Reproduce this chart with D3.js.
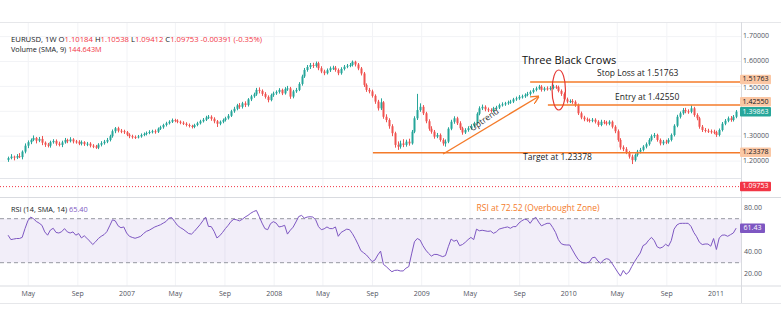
<!DOCTYPE html>
<html><head><meta charset="utf-8">
<script src="https://cdn.jsdelivr.net/npm/d3@7"></script>
<style>
body{margin:0;background:#fff}
svg{display:block}
text{font-family:"Open Sans",sans-serif}
</style>
</head><body><svg id="c" width="781" height="330"></svg>
<script>
// ---------- DATA ----------
const startWeek = "2006-03-12";
const firstOpen = 1.205;
const closes = [1.212,1.218,1.214,1.220,1.216,1.238,1.262,1.276,1.285,1.293,1.282,1.289,1.274,1.266,1.262,1.276,1.281,1.270,1.265,1.275,
1.285,1.280,1.287,1.279,1.278,1.270,1.276,1.268,1.270,1.262,1.259,1.254,1.266,1.272,1.278,1.285,1.300,1.320,1.332,1.322,
1.320,1.316,1.306,1.300,1.297,1.296,1.299,1.305,1.309,1.313,1.317,1.320,1.318,1.330,1.336,1.345,1.352,1.358,1.365,1.362,
1.358,1.354,1.350,1.345,1.341,1.337,1.345,1.352,1.360,1.366,1.375,1.378,1.370,1.360,1.350,1.358,1.365,1.372,1.382,1.400,
1.410,1.424,1.418,1.432,1.425,1.448,1.460,1.468,1.486,1.482,1.470,1.458,1.445,1.465,1.472,1.478,1.486,1.472,1.490,1.492,
1.459,1.480,1.486,1.510,1.540,1.566,1.578,1.586,1.582,1.593,1.573,1.560,1.553,1.565,1.573,1.575,1.566,1.553,1.570,1.579,
1.583,1.586,1.599,1.588,1.572,1.552,1.506,1.486,1.480,1.462,1.439,1.412,1.436,1.378,1.365,1.340,1.312,1.265,1.258,1.271,
1.265,1.278,1.271,1.318,1.372,1.405,1.418,1.392,1.360,1.330,1.318,1.298,1.305,1.285,1.271,1.278,1.330,1.358,1.372,1.352,
1.332,1.315,1.325,1.332,1.340,1.352,1.390,1.412,1.418,1.408,1.405,1.402,1.412,1.415,1.425,1.428,1.432,1.436,1.439,1.448,
1.452,1.458,1.460,1.466,1.470,1.478,1.486,1.492,1.499,1.486,1.492,1.490,1.494,1.499,1.497,1.482,1.470,1.448,1.439,1.441,
1.438,1.425,1.392,1.375,1.368,1.365,1.362,1.366,1.358,1.345,1.358,1.355,1.350,1.358,1.338,1.320,1.285,1.255,1.248,1.235,
1.218,1.204,1.225,1.238,1.245,1.258,1.268,1.285,1.300,1.305,1.285,1.271,1.278,1.276,1.285,1.305,1.342,1.378,1.392,1.405,
1.400,1.398,1.412,1.385,1.372,1.338,1.325,1.322,1.320,1.318,1.316,1.305,1.325,1.350,1.362,1.372,1.365,1.378,1.39863];
const highs = [1.218,1.228,1.222,1.228,1.232,1.243,1.271,1.283,1.291,1.303,1.297,1.297,1.301,1.279,1.273,1.282,1.288,1.287,1.278,1.282,
1.293,1.290,1.296,1.292,1.285,1.284,1.283,1.280,1.277,1.276,1.268,1.265,1.272,1.280,1.285,1.293,1.306,1.327,1.337,1.338,
1.329,1.326,1.321,1.312,1.306,1.303,1.305,1.311,1.315,1.319,1.324,1.326,1.327,1.335,1.342,1.350,1.358,1.364,1.371,1.370,
1.368,1.363,1.360,1.356,1.351,1.346,1.350,1.358,1.366,1.373,1.382,1.385,1.384,1.376,1.365,1.363,1.371,1.378,1.389,1.406,
1.418,1.430,1.433,1.438,1.440,1.453,1.466,1.475,1.494,1.496,1.488,1.477,1.464,1.471,1.479,1.484,1.493,1.491,1.497,1.502,
1.498,1.486,1.494,1.517,1.547,1.574,1.586,1.594,1.595,1.600,1.599,1.581,1.567,1.572,1.580,1.583,1.582,1.572,1.577,1.586,
1.590,1.594,1.604,1.603,1.594,1.578,1.558,1.512,1.494,1.487,1.468,1.446,1.452,1.441,1.388,1.372,1.348,1.318,1.279,1.282,
1.288,1.286,1.290,1.325,1.380,1.470,1.432,1.425,1.398,1.368,1.340,1.325,1.313,1.311,1.292,1.287,1.336,1.366,1.380,1.378,
1.360,1.338,1.332,1.340,1.348,1.358,1.396,1.420,1.427,1.424,1.415,1.412,1.418,1.422,1.431,1.436,1.438,1.443,1.446,1.454,
1.459,1.465,1.467,1.472,1.478,1.484,1.493,1.499,1.506,1.505,1.498,1.500,1.501,1.507,1.505,1.503,1.488,1.476,1.455,1.448,
1.449,1.444,1.431,1.399,1.382,1.375,1.371,1.373,1.372,1.364,1.366,1.365,1.362,1.364,1.363,1.344,1.327,1.292,1.263,1.256,
1.241,1.226,1.231,1.245,1.253,1.264,1.275,1.292,1.307,1.313,1.310,1.291,1.285,1.286,1.292,1.311,1.348,1.386,1.399,1.413,
1.414,1.408,1.424,1.418,1.392,1.378,1.345,1.333,1.330,1.327,1.326,1.322,1.331,1.357,1.369,1.379,1.381,1.385,1.405];
const lows = [1.197,1.207,1.203,1.208,1.212,1.207,1.231,1.252,1.268,1.280,1.271,1.276,1.264,1.257,1.255,1.254,1.270,1.262,1.259,1.256,
1.270,1.272,1.275,1.271,1.270,1.264,1.263,1.261,1.260,1.255,1.252,1.249,1.248,1.259,1.266,1.272,1.279,1.294,1.312,1.315,
1.312,1.309,1.300,1.292,1.290,1.289,1.291,1.294,1.300,1.303,1.308,1.311,1.310,1.313,1.325,1.330,1.339,1.347,1.353,1.356,
1.352,1.348,1.345,1.339,1.335,1.331,1.332,1.340,1.347,1.355,1.361,1.369,1.362,1.352,1.337,1.344,1.352,1.359,1.367,1.377,
1.394,1.404,1.410,1.411,1.417,1.419,1.441,1.454,1.462,1.472,1.462,1.451,1.436,1.440,1.458,1.466,1.471,1.465,1.467,1.482,
1.450,1.452,1.474,1.481,1.503,1.534,1.559,1.570,1.574,1.576,1.565,1.553,1.545,1.548,1.558,1.566,1.559,1.545,1.547,1.564,
1.573,1.577,1.580,1.580,1.565,1.544,1.498,1.478,1.472,1.455,1.430,1.403,1.405,1.370,1.356,1.330,1.300,1.254,1.245,1.250,
1.256,1.258,1.262,1.266,1.312,1.365,1.398,1.385,1.352,1.322,1.310,1.290,1.292,1.278,1.262,1.258,1.272,1.324,1.350,1.345,
1.325,1.306,1.309,1.318,1.326,1.334,1.346,1.384,1.405,1.400,1.397,1.395,1.396,1.406,1.409,1.419,1.422,1.426,1.430,1.433,
1.442,1.446,1.451,1.454,1.460,1.463,1.472,1.480,1.487,1.479,1.480,1.483,1.484,1.488,1.490,1.476,1.462,1.440,1.432,1.433,
1.430,1.418,1.385,1.368,1.360,1.358,1.355,1.356,1.351,1.338,1.340,1.348,1.343,1.344,1.331,1.312,1.278,1.246,1.240,1.228,
1.210,1.188,1.198,1.218,1.231,1.239,1.251,1.262,1.279,1.293,1.278,1.263,1.264,1.268,1.270,1.279,1.299,1.336,1.371,1.386,
1.392,1.390,1.392,1.378,1.364,1.330,1.317,1.315,1.313,1.310,1.308,1.297,1.299,1.319,1.344,1.356,1.358,1.359,1.372];
const rsi = [55,51,51.5,52,52,53,61,68,71.5,70,67.5,66,64,58,55,59.7,61.3,57.5,57,58.2,
61,58,57,58,55,56.5,52.5,54.5,52,49.5,46.5,49,52,54,55.5,58.2,63.5,69,68,63.5,
61.8,62.5,57,54,53,52.2,53,54,56.5,58.5,59.5,61,62.5,63.5,64.5,66,67.5,70.5,71,67.5,
64,62,60.5,58.5,56.5,56,58.5,61.5,64.5,68,71.5,63,62.8,58.5,52.5,54.5,57.5,61,64,67.5,
69.5,69,68,69.5,71.5,73,75,76.5,77.5,72,66,61,60,65.5,67.3,66,62.5,63,64,56,
59.5,62.3,67,72,73,70.5,71.5,71.8,71.5,69,62.8,60,60.8,62.5,61,61,62.5,54,57.5,59,
60.5,60,56.5,52,46.8,41,39,37,34,31,32.4,37,40.5,28.5,26.5,24,21.8,23,23.2,22.5,
22.5,25,26.5,38,49,52,50.6,45.5,41.5,38.5,36,37.5,37.5,36.5,35.5,36.5,44.5,51.5,49.5,50.6,
45.5,46.5,48.5,51,53,51,60.5,59,59.5,59,58.5,58.8,56.7,58,60.5,61.3,62,62.5,61.3,62.8,
62.8,66,68,69.5,69,65.8,69.5,71.3,67,63.5,64.7,65.8,65.8,62,57.5,51,47.3,46.3,46.1,46.1,
41.5,37,33,30.7,29.8,29.8,30.7,34.5,35,31.5,29.5,32.4,33.7,33,29.5,25.5,21.5,17.8,23,19.5,
21.5,26.5,31,35,38.8,45.5,47,50.5,53,50,44.5,43.2,44.3,46.8,45,50,60.5,64.3,65.7,65.8,
65.8,65.8,63,57.5,53.6,48.5,46.5,47,47,45,52,42,52.5,55,55.2,54,55.5,57,61.43];
const gridTicks = [1.2,1.3,1.4,1.5,1.6,1.7];
const priceLabelTicks = [1.2,1.3,1.5,1.6,1.7];
const rsiLabelTicks = [20,40,80];
const rsiBand = [30,70];
const xTickDates = ["2006-05-01","2006-09-01","2007-01-01","2007-05-01","2007-09-01","2008-01-01","2008-05-01","2008-09-01",
  "2009-01-01","2009-05-01","2009-09-01","2010-01-01","2010-05-01","2010-09-01","2011-01-01"];
const xTickLabels = ["May","Sep","2007","May","Sep","2008","May","Sep","2009","May","Sep","2010","May","Sep","2011"];
const legendOHLC = {symbol:"EURUSD, 1W", O:"1.10184", H:"1.10538", L:"1.09412", C:"1.09753", chg:"-0.00391 (-0.35%)"};
const volumeLegend = {name:"Volume (SMA, 9)", value:"144.643M"};
const rsiLegend = {name:"RSI (14, SMA, 14)", value:"65.40"};
const lastClose = 1.09753;
const stopLoss = 1.51763, entry = 1.42550, target = 1.23378, lastPrice = 1.39863;
const lastRsi = 61.43;
const levelStarts = {stop:"2009-09-27", entry:"2009-11-10", target:"2008-09-02"};
const uptrend = {from:["2009-02-23",1.2285], to:["2009-10-16",1.4574]};
const crowsAt = ["2009-12-07",1.4855];
const overboughtText = "RSI at 72.52 (Overbought Zone)";

// ---------- CHART ----------
const svg = d3.select("#c");
const W = 781, H = 330;
const plotR = 741;
const mainTop = 22, mainBot = 197, rsiBot = 285.5, axisBot = 303;
const parse = d3.utcParse("%Y-%m-%d");
const x = d3.scaleUtc().domain([parse("2007-01-01"), parse("2011-01-01")]).range([127, 716]);
const y = d3.scaleLinear().domain([1.2, 1.6]).range([161.1, 61.5]);
const yr = d3.scaleLinear().domain([20, 80]).range([273.7, 207.7]);
const up = "#26a69a", down = "#ef5350", orange = "#f47b2a";

const t0 = parse(startWeek);
const candles = closes.map((c, i) => ({
  date: d3.utcWeek.offset(t0, i),
  o: i === 0 ? firstOpen : closes[i - 1], h: highs[i], l: lows[i], c
}));

// grid
const grid = svg.append("g");
grid.selectAll("line.v").data(xTickDates).join("line")
  .attr("x1", d => x(parse(d))).attr("x2", d => x(parse(d)))
  .attr("y1", mainTop).attr("y2", rsiBot).attr("stroke", "#f2f3f6").attr("stroke-width", 1);
grid.selectAll("line.h").data(gridTicks).join("line")
  .attr("x1", 0).attr("x2", plotR).attr("y1", d => y(d)).attr("y2", d => y(d))
  .attr("stroke", "#f2f3f6");

// frame lines
const frame = svg.append("g").attr("stroke", "#d9dbe0").attr("stroke-width", 1);
frame.append("line").attr("x1", 0).attr("x2", W).attr("y1", mainTop + .5).attr("y2", mainTop + .5).attr("stroke", "#e6e7ea");
frame.append("line").attr("x1", 0).attr("x2", W).attr("y1", mainBot + .5).attr("y2", mainBot + .5);
frame.append("line").attr("x1", 0).attr("x2", W).attr("y1", rsiBot + .5).attr("y2", rsiBot + .5);
frame.append("line").attr("x1", 0).attr("x2", W).attr("y1", axisBot + .5).attr("y2", axisBot + .5).attr("stroke", "#e6e7ea");
frame.append("line").attr("x1", plotR + .5).attr("x2", plotR + .5).attr("y1", mainTop).attr("y2", axisBot);
// faint volume-pane baseline above the last-close line
frame.append("line").attr("x1", 0).attr("x2", plotR).attr("y1", 178.5).attr("y2", 178.5).attr("stroke", "#e3e5ea");

// last close dotted line
svg.append("line").attr("x1", 0).attr("x2", plotR).attr("y1", y(lastClose)).attr("y2", y(lastClose))
  .attr("stroke", "#f23645").attr("stroke-dasharray", "1,2").attr("stroke-width", 1);

// candles
const cg = svg.append("g");
cg.selectAll("line").data(candles).join("line")
  .attr("x1", d => Math.round(x(d.date)) + .5).attr("x2", d => Math.round(x(d.date)) + .5)
  .attr("y1", d => y(d.h)).attr("y2", d => y(d.l))
  .attr("stroke", d => d.c >= d.o ? up : down).attr("stroke-width", 1);
cg.selectAll("rect").data(candles).join("rect")
  .attr("x", d => Math.round(x(d.date)) - 0.5).attr("width", 2)
  .attr("y", d => y(Math.max(d.o, d.c)))
  .attr("height", d => Math.max(1, Math.abs(y(d.o) - y(d.c))))
  .attr("fill", d => d.c >= d.o ? up : down);

// annotation lines
const ann = svg.append("g");
function hline(v, start) {
  ann.append("line").attr("x1", x(parse(start))).attr("x2", plotR).attr("y1", y(v)).attr("y2", y(v))
    .attr("stroke", orange).attr("stroke-width", 1.6);
}
hline(stopLoss, levelStarts.stop);
hline(entry, levelStarts.entry);
hline(target, levelStarts.target);

const txt = (xx, yy, s, size, fill, anchor = "start") => ann.append("text").attr("x", xx).attr("y", yy)
  .attr("font-size", size).attr("fill", fill).attr("text-anchor", anchor).attr("dominant-baseline", "middle").text(s);
txt(597, y(stopLoss) - 8, "Stop Loss at 1.51763", 8.5, "#222");
txt(615, y(entry) - 7.5, "Entry at 1.42550", 8.5, "#222");
txt(523, y(target) + 5, "Target at 1.23378", 8.5, "#222");
txt(522, 61, "Three Black Crows", 11, "#111");

// uptrend arrow
const ax1 = x(parse(uptrend.from[0])), ay1 = y(uptrend.from[1]);
const ax2 = x(parse(uptrend.to[0])), ay2 = y(uptrend.to[1]);
svg.append("defs").append("marker").attr("id", "ah").attr("viewBox", "0 0 10 10").attr("refX", 8).attr("refY", 5)
  .attr("markerWidth", 6).attr("markerHeight", 6).attr("orient", "auto")
  .append("path").attr("d", "M0,0 L10,5 L0,10").attr("fill", "none").attr("stroke", orange).attr("stroke-width", 1.6);
ann.append("line").attr("x1", ax1).attr("y1", ay1).attr("x2", ax2).attr("y2", ay2)
  .attr("stroke", orange).attr("stroke-width", 1.4).attr("marker-end", "url(#ah)");
const ang = Math.atan2(ay2 - ay1, ax2 - ax1) * 180 / Math.PI;
ann.append("text").attr("transform", `translate(486,122) rotate(${ang - 4})`).attr("text-anchor", "middle")
  .attr("font-size", 8.5).attr("fill", "#333").text("Uptrend");

// ellipse
ann.append("ellipse").attr("cx", x(parse(crowsAt[0]))).attr("cy", y(crowsAt[1])).attr("rx", 6.7).attr("ry", 20)
  .attr("fill", "none").attr("stroke", "#e53935").attr("stroke-width", 1.2);

// RSI panel
svg.append("rect").attr("x", 0).attr("width", plotR).attr("y", yr(rsiBand[1])).attr("height", yr(rsiBand[0]) - yr(rsiBand[1]))
  .attr("fill", "#7e57c2").attr("fill-opacity", 0.1);
rsiBand.forEach(v => svg.append("line").attr("x1", 0).attr("x2", plotR).attr("y1", yr(v)).attr("y2", yr(v))
  .attr("stroke", "#9598a1").attr("stroke-dasharray", "4,3").attr("stroke-width", 1));
svg.append("path").datum(rsi).attr("fill", "none").attr("stroke", "#7e57c2").attr("stroke-width", 1)
  .attr("d", d3.line().x((d, i) => x(candles[i].date)).y(d => yr(d)));
svg.append("text").attr("x", 538).attr("y", 209).attr("text-anchor", "middle").attr("dominant-baseline", "middle")
  .attr("font-size", 8.5).attr("fill", orange).text(overboughtText);

// legends
const lg = svg.append("text").attr("x", 11).attr("y", 40).attr("font-size", 7.7).attr("dominant-baseline", "middle");
lg.append("tspan").attr("fill", "#131722").text(legendOHLC.symbol + "  ");
["O", "H", "L", "C"].forEach(k => {
  lg.append("tspan").attr("fill", "#131722").text(k);
  lg.append("tspan").attr("fill", "#f23645").text(legendOHLC[k] + "  ");
});
lg.append("tspan").attr("fill", "#f23645").text(legendOHLC.chg);
const vl = svg.append("text").attr("x", 11).attr("y", 49.5).attr("font-size", 7.3).attr("dominant-baseline", "middle");
vl.append("tspan").attr("fill", "#131722").text(volumeLegend.name + "  ");
vl.append("tspan").attr("fill", "#f23645").text(volumeLegend.value);
const rl = svg.append("text").attr("x", 11).attr("y", 210).attr("font-size", 7.3).attr("dominant-baseline", "middle");
rl.append("tspan").attr("fill", "#131722").text(rsiLegend.name + "  ");
rl.append("tspan").attr("fill", "#7e57c2").text(rsiLegend.value);

// right axes
const fmt5 = d3.format(".5f"), fmt2 = d3.format(".2f");
const tickLabelY = d => y(d) + (d === 1.5 ? 2 : 0);
svg.append("g").selectAll("text").data(priceLabelTicks).join("text")
  .attr("x", 756).attr("y", tickLabelY).attr("text-anchor", "middle").attr("dominant-baseline", "middle")
  .attr("font-size", 7).attr("fill", "#50535e").text(d => fmt5(d));
svg.append("g").selectAll("text").data(rsiLabelTicks).join("text")
  .attr("x", 753).attr("y", d => yr(d)).attr("text-anchor", "middle").attr("dominant-baseline", "middle")
  .attr("font-size", 7).attr("fill", "#50535e").text(d => fmt2(d));

// price-scale labels, pushed apart so they do not overlap each other or tick labels (move up)
const boxH = 9.5;
const pBoxes = [
  {v: stopLoss, bg: "#fbc7a4", fg: "#131722"},
  {v: entry, bg: "#fbc7a4", fg: "#131722"},
  {v: lastPrice, bg: "#26a69a", fg: "#fff"},
  {v: target, bg: "#fbc7a4", fg: "#131722"},
  {v: lastClose, bg: "#f23645", fg: "#fff"}
].map(b => ({...b, cy: y(b.v), f: fmt5, w: 31}));
pBoxes.sort((a, b) => b.cy - a.cy);
const tickYs = priceLabelTicks.map(tickLabelY);
for (let i = 0; i < pBoxes.length; i++) {
  if (i > 0 && pBoxes[i - 1].cy - pBoxes[i].cy < boxH + 0.5) pBoxes[i].cy = pBoxes[i - 1].cy - boxH - 0.5;
  tickYs.forEach(ty => {
    const gap = boxH / 2 + 4.2;
    if (Math.abs(pBoxes[i].cy - ty) < gap) pBoxes[i].cy = ty - gap;
  });
}
const rBoxes = [{v: lastRsi, bg: "#7e57c2", fg: "#fff", cy: yr(lastRsi), f: fmt2, w: 25}];
const bg = svg.append("g");
pBoxes.concat(rBoxes).forEach(b => {
  bg.append("rect").attr("x", 740).attr("y", b.cy - boxH / 2).attr("width", b.w).attr("height", boxH).attr("rx", 1).attr("fill", b.bg);
  bg.append("text").attr("x", 740 + b.w / 2).attr("y", b.cy).attr("text-anchor", "middle").attr("dominant-baseline", "middle")
    .attr("font-size", 7).attr("fill", b.fg).text(b.f(b.v));
});

// x axis labels
svg.append("g").selectAll("text").data(xTickDates).join("text")
  .attr("x", d => x(parse(d))).attr("y", 294.5).attr("text-anchor", "middle").attr("dominant-baseline", "middle")
  .attr("font-size", 7).attr("fill", "#50535e").text((d, i) => xTickLabels[i]);
</script></body></html>
